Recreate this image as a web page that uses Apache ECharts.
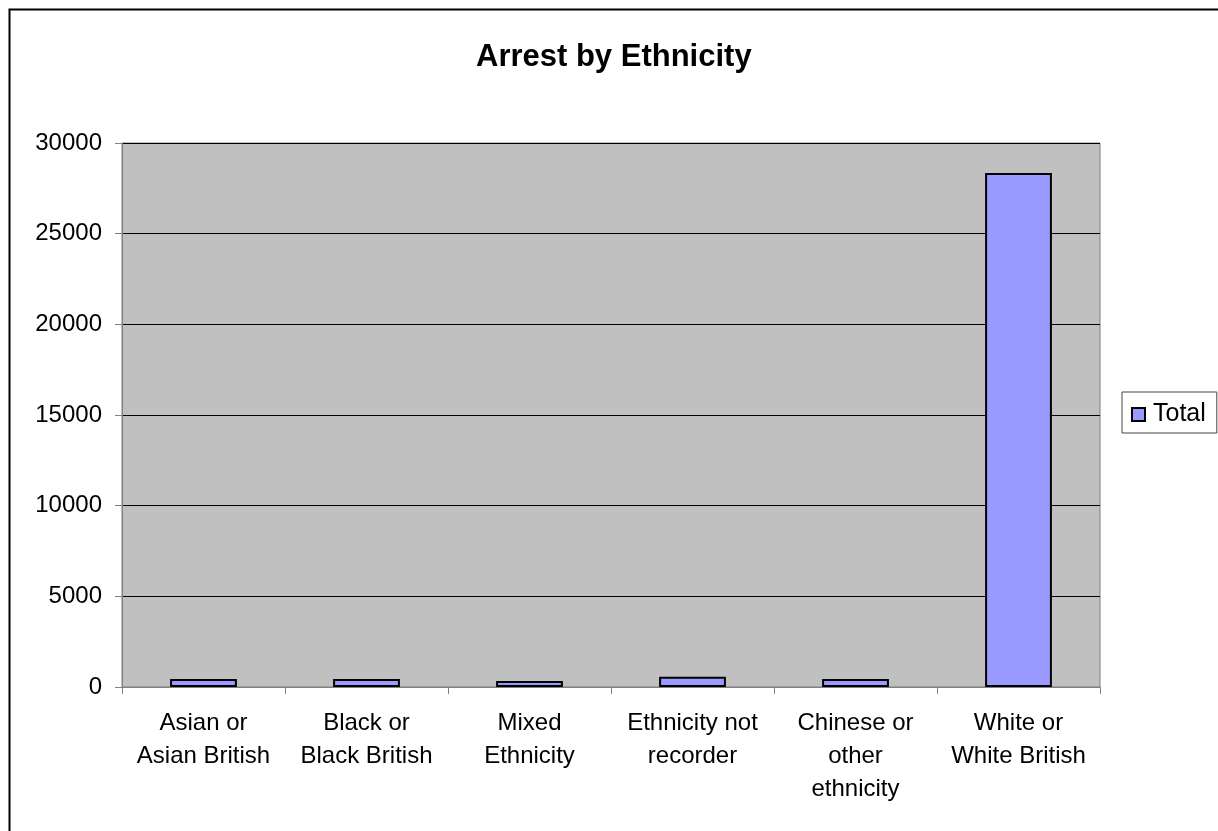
<!DOCTYPE html>
<html>
<head>
<meta charset="utf-8">
<script src="https://cdn.jsdelivr.net/npm/echarts@6/dist/echarts.min.js"></script>
<style>
html,body{margin:0;padding:0;background:#fff;}
#c{width:1218px;height:831px;}
</style>
</head>
<body>
<div id="c"></div>
<script>
const categories = ["Asian or Asian British", "Black or Black British", "Mixed Ethnicity", "Ethnicity not recorder", "Chinese or other ethnicity", "White or White British"];
const categoryLabels = ["Asian or\nAsian British", "Black or\nBlack British", "Mixed\nEthnicity", "Ethnicity not\nrecorder", "Chinese or\nother\nethnicity", "White or\nWhite British"];
const totals = [440, 440, 330, 570, 440, 28350];
const yTicks = [0, 5000, 10000, 15000, 20000, 25000, 30000];

const font = "'Liberation Sans', Arial, sans-serif";
const chart = echarts.init(document.getElementById('c'), null, {renderer: 'canvas'});
chart.setOption({
  animation: false,
  backgroundColor: '#ffffff',
  graphic: [{
    type: 'rect', left: 7, top: 7,
    shape: {width: 1230, height: 840},
    style: {fill: 'none', stroke: '#000', lineWidth: 2},
    z: -1
  }],
  title: {
    text: 'Arrest by Ethnicity',
    left: 471, top: 37,
    textStyle: {fontFamily: font, fontSize: 31, fontWeight: 'bold', color: '#000'}
  },
  legend: {
    show: true,
    left: 1122, top: 392,
    orient: 'vertical',
    data: ['Total'],
    itemWidth: 13, itemHeight: 13, itemGap: 5,
    padding: [10, 11, 6, 9],
    borderColor: '#444', borderWidth: 1,
    icon: 'rect',
    itemStyle: {borderColor: '#000', borderWidth: 2},
    textStyle: {fontFamily: font, fontSize: 25, color: '#000', padding: [0, 0, 0, 3]}
  },
  grid: {
    left: 122, right: 118, top: 143, bottom: 144,
    show: true, backgroundColor: '#C0C0C0', borderColor: '#808080', borderWidth: 1,
    containLabel: false
  },
  xAxis: {
    type: 'category',
    data: categories,
    axisLine: {lineStyle: {color: '#808080', width: 1}},
    axisTick: {show: true, length: 7, lineStyle: {color: '#808080'}},
    axisLabel: {
      margin: 20,
      interval: 0,
      fontFamily: font, fontSize: 24, color: '#000', lineHeight: 33,
      formatter: function (v, i) { return categoryLabels[i]; }
    }
  },
  yAxis: {
    type: 'value',
    min: yTicks[0], max: yTicks[yTicks.length - 1], interval: 5000,
    axisLine: {show: true, lineStyle: {color: '#808080', width: 1}},
    axisTick: {show: true, length: 7, lineStyle: {color: '#808080'}},
    splitLine: {show: true, lineStyle: {color: '#000', width: 1}},
    axisLabel: {margin: 20, fontFamily: font, fontSize: 24, color: '#000',
      formatter: function (v) { return String(v); }}
  },
  series: [{
    name: 'Total',
    type: 'bar',
    data: totals,
    barWidth: '41%',
    itemStyle: {color: '#9999FF', borderColor: '#000', borderWidth: 2}
  }]
});
</script>
</body>
</html>
